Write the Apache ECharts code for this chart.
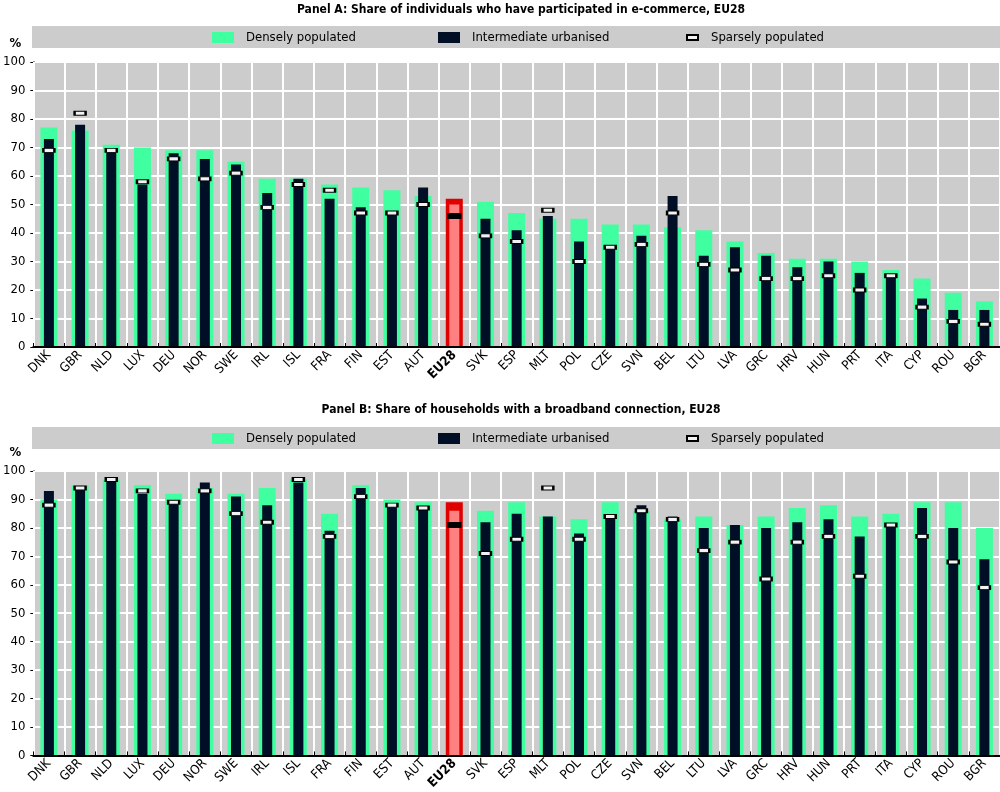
<!DOCTYPE html>
<html>
<head>
<meta charset="utf-8">
<script src="https://cdn.jsdelivr.net/npm/echarts@6/dist/echarts.min.js"></script>
<style>
html,body{margin:0;padding:0;background:#fff;}
#chart{width:1000px;height:792px;}
</style>
</head>
<body>
<div id="chart"></div>
<script>
const categories = ['DNK','GBR','NLD','LUX','DEU','NOR','SWE','IRL','ISL','FRA','FIN','EST','AUT','EU28','SVK','ESP','MLT','POL','CZE','SVN','BEL','LTU','LVA','GRC','HRV','HUN','PRT','ITA','CYP','ROU','BGR'];
// Panel A: e-commerce
const ecomDense  = [77,76,71,70,69,69,65,59,59,57,56,55,53,52,51,47,45,45,43,43,42,41,37,33,31,31,30,27,24,19,16];
const ecomInter  = [73,78,69,57,68,66,64,54,59,52,49,47,56,50,45,41,46,37,35,39,53,32,35,32,28,30,26,25,17,13,13];
const ecomSparse = [69,82,69,58,66,59,61,49,57,55,47,47,50,46,39,37,48,30,35,36,47,29,27,24,24,25,20,25,14,9,8];
// Panel B: broadband
const bbDense  = [90,95,97,95,92,94,92,94,97,85,95,90,89,89,86,89,84,83,89,86,83,84,81,84,87,88,84,85,89,89,80];
const bbInter  = [93,94,97,92,89,96,91,88,96,79,94,88,87,86,82,85,84,78,84,88,84,80,81,80,82,83,77,81,87,80,69];
const bbSparse = [88,94,97,93,89,93,85,82,97,77,91,88,87,81,71,76,94,76,84,86,83,72,75,62,75,77,63,81,77,68,59];

const titleA = 'Panel A: Share of individuals who have participated in e-commerce, EU28';
const titleB = 'Panel B: Share of households with a broadband connection, EU28';
const legendNames = ['Densely populated','Intermediate urbanised','Sparsely populated'];

const FONT = "'Liberation Sans Narrow','DejaVu Sans Condensed',sans-serif";
const GREEN = '#40FFA0', DARK = '#000F26', RED = '#E00000', PINK = '#FF8080';
const EU = 'EU28';

function denseData(arr){ return arr.map((v,i)=> categories[i]===EU ? {value:v,itemStyle:{color:RED}} : v); }
function interData(arr){ return arr.map((v,i)=> categories[i]===EU ? {value:v,itemStyle:{color:PINK}} : v); }
function sparseData(arr){ return arr.map((v,i)=> categories[i]===EU ? {value:v,symbolSize:[12,5],itemStyle:{color:'#000',borderColor:'#000'}} : v); }

const panels = [
  {top:62, legendTop:26, titleTop:-1, dense:ecomDense, inter:ecomInter, sparse:ecomSparse, title:titleA},
  {top:471, legendTop:427, titleTop:399, dense:bbDense, inter:bbInter, sparse:bbSparse, title:titleB}
];

const grid=[], xAxis=[], yAxis=[], series=[], legend=[], title=[], graphic=[];
panels.forEach((p,k)=>{
  grid.push({left:32, right:0, top:p.top, height:285, show:true, backgroundColor:'#CCCCCC', borderWidth:0});
  const labelCfg = {
    rotate:45, fontSize:13, fontFamily:FONT, color:'#000', margin:6, interval:0,
    formatter: v => v===EU ? '{b|'+v+'}' : v,
    rich:{b:{fontWeight:'bold', fontSize:13, fontFamily:FONT, color:'#000'}}
  };
  xAxis.push({type:'category', gridIndex:k, data:categories, boundaryGap:true,
    axisLine:{show:true, lineStyle:{color:'#000', width:2}},
    axisTick:{show:true, inside:true, length:4, lineStyle:{color:'#000'}},
    splitLine:{show:true, interval:0, lineStyle:{color:'#fff', width:2}},
    axisLabel:labelCfg, z:5});
  xAxis.push({type:'category', gridIndex:k, data:categories, show:false});
  yAxis.push({type:'value', gridIndex:k, min:0, max:100, interval:10,
    name:'%', nameLocation:'end', nameGap:12,
    nameTextStyle:{fontSize:13, fontFamily:FONT, color:'#000', fontWeight:'bold', align:'right', padding:[0,12,0,0]},
    axisLine:{show:true, lineStyle:{color:'#000', width:1.5}},
    axisTick:{show:true, length:3, lineStyle:{color:'#000'}},
    splitLine:{show:true, lineStyle:{color:'#fff', width:2}},
    axisLabel:{fontSize:13, fontFamily:FONT, color:'#000', margin:8}});
  series.push({name:legendNames[0], type:'bar', xAxisIndex:2*k, yAxisIndex:k, barWidth:17,
    itemStyle:{color:GREEN}, data:denseData(p.dense), z:2});
  series.push({name:legendNames[1], type:'bar', xAxisIndex:2*k+1, yAxisIndex:k, barWidth:10,
    itemStyle:{color:DARK}, data:interData(p.inter), z:3});
  series.push({name:legendNames[2], type:'scatter', xAxisIndex:2*k, yAxisIndex:k,
    symbol:'rect', symbolSize:[11,4],
    itemStyle:{color:'#F2F2F2', borderColor:'#000', borderWidth:1.5, opacity:1},
    data:sparseData(p.sparse), z:4});
  title.push({text:p.title, left:516, top:p.titleTop, textAlign:'center',
    textStyle:{fontSize:12, fontWeight:'bold', fontFamily:FONT, color:'#000'}});
  graphic.push({type:'rect', left:32, top:p.legendTop, z:-1, silent:true,
    shape:{width:968, height:22}, style:{fill:'#CCCCCC'}});
  const lgText = {fontSize:13, fontFamily:FONT, color:'#000', padding:[0,0,0,7]};
  legend.push({top:p.legendTop+5, left:212, itemWidth:22, itemHeight:11, padding:0, selectedMode:false,
    textStyle:lgText, data:[{name:legendNames[0], icon:'rect'}]});
  legend.push({top:p.legendTop+5, left:438, itemWidth:22, itemHeight:11, padding:0, selectedMode:false,
    textStyle:lgText, data:[{name:legendNames[1], icon:'rect'}]});
  legend.push({top:p.legendTop+5, left:686, itemWidth:11, itemHeight:5, padding:0, selectedMode:false,
    textStyle:Object.assign({}, lgText, {padding:[0,0,0,8]}), data:[{name:legendNames[2], icon:'rect'}]});
});

const chart = echarts.init(document.getElementById('chart'), null, {renderer:'canvas'});
chart.setOption({animation:false, title, grid, xAxis, yAxis, series, legend, graphic});
</script>
</body>
</html>
